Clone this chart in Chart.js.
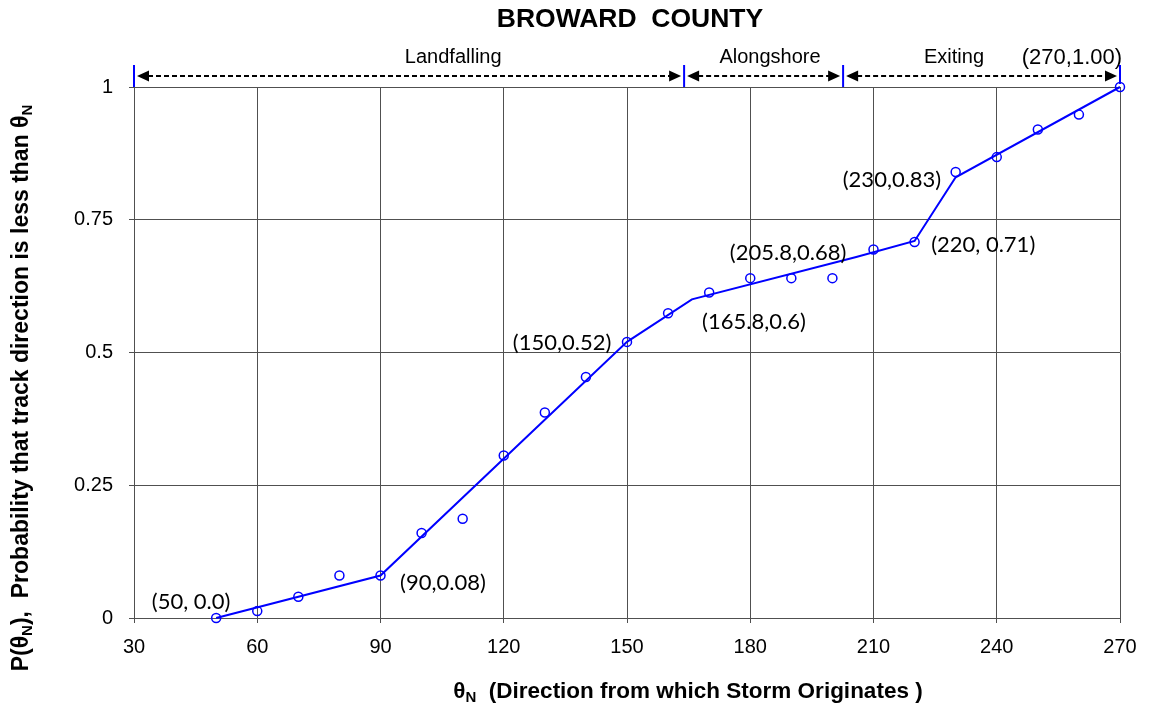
<!DOCTYPE html>
<html><head><meta charset="utf-8">
<script src="https://cdn.jsdelivr.net/npm/chart.js@4.4.0/dist/chart.umd.min.js"></script>
<style>html,body{margin:0;padding:0;background:#fff}#wrap{width:1149px;height:708px;position:relative}</style>
</head><body><div id="wrap"><canvas id="c" width="1149" height="708"></canvas></div>
<script>
// ---- data ----
const directions = [50,60,70,80,90,100,110,120,130,140,150,160,170,180,190,200,210,220,230,240,250,260,270];
const probabilities = [0,0.013,0.040,0.080,0.080,0.160,0.187,0.306,0.387,0.454,0.520,0.574,0.613,0.640,0.640,0.640,0.694,0.708,0.840,0.868,0.920,0.948,1.0];
const fitX = [50,90,150,165.8,205.8,220,230,270];
const fitY = [0,0.08,0.52,0.6,0.68,0.71,0.83,1.0];
const xTicks = [30,60,90,120,150,180,210,240,270];
const yTicks = [0,0.25,0.5,0.75,1];
const yTickLabels = ['0','0.25','0.5','0.75','1'];
const regionBounds = [30,163.9,202.6,270];
const regionNames = ['Landfalling','Alongshore','Exiting'];
const regionLabelX = [107.7,184.8,229.6];
const pointLabels = ['(50, 0.0)','(90,0.08)','(150,0.52)','(165.8,0.6)','(205.8,0.68)','(230,0.83)','(220, 0.71)','(270,1.00)'];
const pointLabelX = [43.9,105.2,134.2,180.9,189.2,214.5,236.7,258.3];
const pointLabelY = [0.030,0.066,0.518,0.557,0.687,0.825,0.702,1.055];

const SANS = '"Liberation Sans", Arial, sans-serif';
const CAL = 'Lato, "Open Sans", sans-serif';

function drawRich(ctx, parts, x, y, size, sub) {
  let w = 0;
  parts.forEach(p => { ctx.font = 'bold ' + (p.s ? sub : size) + 'px ' + SANS; p.w = ctx.measureText(p.t).width; w += p.w; });
  let cx = x - w / 2;
  ctx.textAlign = 'left'; ctx.textBaseline = 'middle';
  parts.forEach(p => {
    ctx.font = 'bold ' + (p.s ? sub : size) + 'px ' + SANS;
    ctx.fillText(p.t, cx, y + (p.s ? 6 : 0));
    cx += p.w;
  });
}

function arrowHead(ctx, x, y, dir) {
  ctx.beginPath();
  ctx.moveTo(x, y);
  ctx.lineTo(x - dir * 12, y - 5.5);
  ctx.lineTo(x - dir * 12, y + 5.5);
  ctx.closePath();
  ctx.fill();
}

const overlay = {
  id: 'overlay',
  afterDraw(chart) {
    const ctx = chart.ctx, xs = chart.scales.x, ys = chart.scales.y;
    ctx.save();
    ctx.fillStyle = '#000';
    // title
    ctx.font = 'bold 26.5px ' + SANS; ctx.textAlign = 'center'; ctx.textBaseline = 'middle';
    ctx.fillText('BROWARD  COUNTY', 630, 20);
    // x title
    drawRich(ctx, [{t:'θ'},{t:'N',s:1},{t:'  (Direction from which Storm Originates )'}], 688, 692, 22.5, 15);
    // y title
    ctx.save(); ctx.translate(22, 388); ctx.rotate(-Math.PI/2);
    drawRich(ctx, [{t:'P(θ'},{t:'N',s:1},{t:'),  Probability that track direction is less than θ'},{t:'N',s:1}], 0, 0, 23, 15);
    ctx.restore();
    // region arrows
    const ay = 76;
    const px = regionBounds.map(v => xs.getPixelForValue(v));
    ctx.strokeStyle = '#0000ff'; ctx.lineWidth = 2;
    px.forEach((p, i) => {
      ctx.beginPath(); ctx.moveTo(p, 65); ctx.lineTo(p, i === px.length - 1 ? 84 : 87); ctx.stroke();
    });
    ctx.strokeStyle = '#000'; ctx.lineWidth = 2; ctx.setLineDash([5,3]);
    for (let i = 0; i < px.length - 1; i++) {
      ctx.beginPath(); ctx.moveTo(px[i] + 14, ay); ctx.lineTo(px[i+1] - 14, ay); ctx.stroke();
    }
    ctx.setLineDash([]);
    for (let i = 0; i < px.length - 1; i++) {
      arrowHead(ctx, px[i] + 3, ay, -1);
      arrowHead(ctx, px[i+1] - 3, ay, 1);
    }
    ctx.font = '20px ' + SANS; ctx.textAlign = 'center'; ctx.textBaseline = 'middle';
    regionNames.forEach((n, i) => ctx.fillText(n, xs.getPixelForValue(regionLabelX[i]), ys.getPixelForValue(1.055)));
    // point labels
    pointLabels.forEach((t, i) => {
      ctx.font = (i === pointLabels.length - 1 ? '22px ' + SANS : '22px ' + CAL);
      ctx.fillText(t, xs.getPixelForValue(pointLabelX[i]), ys.getPixelForValue(pointLabelY[i]));
    });
    ctx.restore();
  }
};

const GRID = '#505050';
new Chart(document.getElementById('c'), {
  type: 'scatter',
  data: {
    datasets: [
      { data: directions.map((d, i) => ({x: d, y: probabilities[i]})), showLine: false,
        pointStyle: 'circle', pointRadius: 4.5, pointBorderWidth: 1.5, pointBorderColor: '#0000ff',
        pointBackgroundColor: 'rgba(255,255,255,0)', clip: false },
      { data: fitX.map((d, i) => ({x: d, y: fitY[i]})), showLine: true, borderColor: '#0000ff',
        borderWidth: 2, pointRadius: 0, tension: 0, clip: false }
    ]
  },
  options: {
    responsive: false, animation: false, devicePixelRatio: 1,
    layout: { padding: { top: 87, right: 29, left: 0, bottom: 0 } },
    plugins: { legend: { display: false }, tooltip: { enabled: false }, title: { display: false } },
    scales: {
      x: { type: 'linear', min: 30, max: 270,
        afterFit(s) { s.height = 90; },
        afterBuildTicks(s) { s.ticks = xTicks.map(v => ({value: v})); },
        grid: { color: GRID, lineWidth: 1, tickLength: 5, tickColor: GRID },
        border: { color: GRID, width: 1 },
        ticks: { color: '#000', padding: 12, font: { family: SANS, size: 20 }, maxRotation: 0,
          callback: v => String(v) } },
      y: { type: 'linear', min: 0, max: 1,
        afterFit(s) { s.width = 134; },
        afterBuildTicks(s) { s.ticks = yTicks.map(v => ({value: v})); },
        grid: { color: GRID, lineWidth: 1, tickLength: 5, tickColor: GRID },
        border: { color: GRID, width: 1 },
        ticks: { color: '#000', padding: 16, font: { family: SANS, size: 20 },
          callback: v => yTickLabels[yTicks.indexOf(v)] } }
    }
  },
  plugins: [overlay]
});
</script></body></html>
